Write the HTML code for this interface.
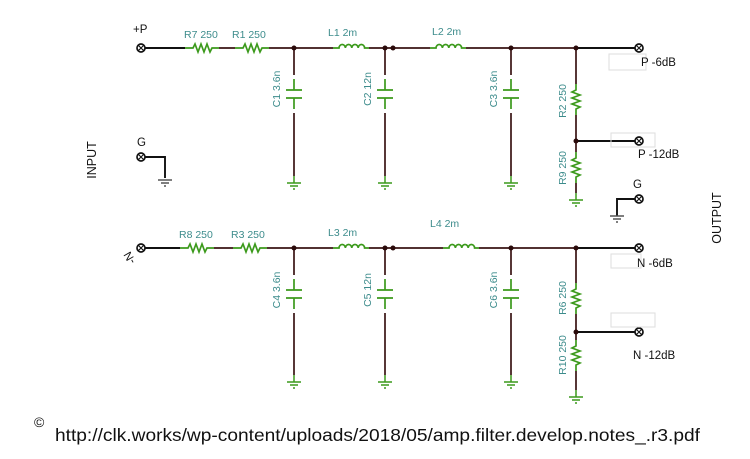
<!DOCTYPE html>
<html><head><meta charset="utf-8"><style>
html,body{margin:0;padding:0;background:#fff;width:750px;height:459px;overflow:hidden}
text{font-family:"Liberation Sans",Arial,sans-serif}
.l{fill:#3d8c8c;font-size:10.5px}
.b{fill:#111;font-size:11.5px}
</style></head><body>
<svg width="750" height="459" viewBox="0 0 750 459" xmlns="http://www.w3.org/2000/svg">
<defs>
<g id="rh" fill="none" stroke="#3c9a1c" stroke-width="1.7">
<path d="M0 0H8L10 -4L13 4L16 -4L19 4L22 -4L25 4L27 0H34"/>
</g>
<g id="rv" fill="none" stroke="#3c9a1c" stroke-width="1.7">
<path d="M0 0V6L-4 8L4 11L-4 14L4 17L-4 20L4 23L0 25V31"/>
</g>
<g id="ind" fill="none" stroke="#3c9a1c" stroke-width="1.7">
<path d="M0 0H6a3.2 3.5 0 0 1 6.4 0a3.2 3.5 0 0 1 6.4 0a3.2 3.5 0 0 1 6.4 0a3.2 3.5 0 0 1 6.4 0H36"/>
</g>
<g id="cap" fill="none" stroke="#3c9a1c" stroke-width="1.7">
<path d="M0 -15V-4M-8 -4H8M-8 4H8M0 4V15"/>
</g>
<g id="gnd" fill="none" stroke="#3c9a1c" stroke-width="1.5">
<path d="M0 -7V0M-7 0H7M-4 3H4M-1 6H1"/>
</g>
<g id="term" fill="none" stroke="#111" stroke-width="1.7">
<circle r="4" fill="#fff"/><path d="M-2.5 -2.5L2.5 2.5M-2.5 2.5L2.5 -2.5" stroke-width="1.1"/>
</g>
</defs>

<g fill="none" stroke="#3a1414" stroke-width="1.7">
<path d="M219 48H235M269 48H333M369 48H430M466 48H576"/>
<path d="M294 48V75M294 113V176"/>
<path d="M385 48V75M385 113V176"/>
<path d="M511 48V75M511 113V176"/>
<path d="M576 48V84M576 115V152M576 183V193"/>
<path d="M214 248H233M267 248H333M369 248H443M479 248H576"/>
<path d="M294 248V275M294 313V375"/>
<path d="M385 248V275M385 313V375"/>
<path d="M511 248V275M511 313V375"/>
<path d="M576 248V283M576 314V340M576 371V390"/>
</g>
<g fill="none" stroke="#111" stroke-width="1.9">
<path d="M141 48H185M576 48H639M576 141H639M639 199H617V216"/>
<path d="M141 157H165V178M141 248H180M576 248H639M576 332H639"/>
</g>
<g fill="#2a0a0a">
<circle cx="294" cy="48" r="2.5"/><circle cx="385" cy="48" r="2.5"/><circle cx="393" cy="48" r="2.5"/><circle cx="511" cy="48" r="2.5"/><circle cx="576" cy="48" r="2.5"/><circle cx="576" cy="141" r="2.5"/>
<circle cx="294" cy="248" r="2.5"/><circle cx="385" cy="248" r="2.5"/><circle cx="393" cy="248" r="2.5"/><circle cx="511" cy="248" r="2.5"/><circle cx="576" cy="248" r="2.5"/><circle cx="576" cy="332" r="2.5"/>
</g>
<use href="#rh" x="185" y="48"/><use href="#rh" x="235" y="48"/><use href="#ind" x="333" y="48"/><use href="#ind" x="430" y="48"/>
<use href="#cap" x="294" y="94"/><use href="#cap" x="385" y="94"/><use href="#cap" x="511" y="94"/>
<use href="#rv" x="576" y="84"/><use href="#rv" x="576" y="152"/>
<use href="#gnd" x="294" y="183"/><use href="#gnd" x="385" y="183"/><use href="#gnd" x="511" y="183"/><use href="#gnd" x="576" y="200"/>
<use href="#rh" x="180" y="248"/><use href="#rh" x="233" y="248"/><use href="#ind" x="333" y="248"/><use href="#ind" x="443" y="248"/>
<use href="#cap" x="294" y="294"/><use href="#cap" x="385" y="294"/><use href="#cap" x="511" y="294"/>
<use href="#rv" x="576" y="283"/><use href="#rv" x="576" y="340"/>
<use href="#gnd" x="294" y="382"/><use href="#gnd" x="385" y="382"/><use href="#gnd" x="511" y="382"/><use href="#gnd" x="576" y="397"/>
<g fill="none" stroke="#555" stroke-width="1.4"><path d="M610 216H624M613 219H621M616 222H618M158 180H172M161 183H169M164 186H166"/></g>
<use href="#term" x="141" y="48"/><use href="#term" x="141" y="157"/><use href="#term" x="141" y="248"/>
<use href="#term" x="639" y="48"/><use href="#term" x="639" y="141"/><use href="#term" x="639" y="199"/><use href="#term" x="639" y="248"/><use href="#term" x="639" y="332"/>
<g fill="none" stroke="#ddd" stroke-width="1"><rect x="609" y="54" width="37" height="16"/><rect x="611" y="133" width="44" height="14"/><rect x="611" y="254" width="30" height="14"/><rect x="611" y="313" width="44" height="14"/></g>
<text class="l" x="184" y="38">R7 250</text><text class="l" x="232" y="38">R1 250</text>
<text class="l" x="328" y="36">L1 2m</text><text class="l" x="432" y="35">L2 2m</text>
<text class="l" x="179" y="238">R8 250</text><text class="l" x="231" y="238">R3 250</text>
<text class="l" x="328" y="236">L3 2m</text><text class="l" x="430" y="227">L4 2m</text>
<g class="l">
<text transform="translate(280,89) rotate(-90)" text-anchor="middle">C1 3.6n</text>
<text transform="translate(371,89) rotate(-90)" text-anchor="middle">C2 12n</text>
<text transform="translate(497,89) rotate(-90)" text-anchor="middle">C3 3.6n</text>
<text transform="translate(566,101) rotate(-90)" text-anchor="middle">R2 250</text>
<text transform="translate(566,168) rotate(-90)" text-anchor="middle">R9 250</text>
<text transform="translate(280,290) rotate(-90)" text-anchor="middle">C4 3.6n</text>
<text transform="translate(371,290) rotate(-90)" text-anchor="middle">C5 12n</text>
<text transform="translate(497,290) rotate(-90)" text-anchor="middle">C6 3.6n</text>
<text transform="translate(566,298) rotate(-90)" text-anchor="middle">R6 250</text>
<text transform="translate(566,355) rotate(-90)" text-anchor="middle">R10 250</text>
</g>
<text class="b" x="133" y="33">+P</text>
<text class="b" x="137" y="146">G</text>
<text class="b" transform="translate(133,256) rotate(-120)" text-anchor="middle">-N</text>
<text class="b" x="633" y="188">G</text>
<text class="b" x="641" y="66">P -6dB</text>
<text class="b" x="638" y="158">P -12dB</text>
<text class="b" x="637" y="267">N -6dB</text>
<text class="b" x="633" y="359">N -12dB</text>
<text class="b" style="font-size:12.5px" transform="translate(96,160) rotate(-90)" text-anchor="middle">INPUT</text>
<text class="b" style="font-size:12.5px" transform="translate(721,218) rotate(-90)" text-anchor="middle">OUTPUT</text>
<text x="34" y="427" style="font-size:14px" fill="#111">©</text>
<text x="55" y="441" style="font-size:17.5px" fill="#111" textLength="645" lengthAdjust="spacingAndGlyphs">http://clk.works/wp-content/uploads/2018/05/amp.filter.develop.notes_.r3.pdf</text>
</svg>
</body></html>
